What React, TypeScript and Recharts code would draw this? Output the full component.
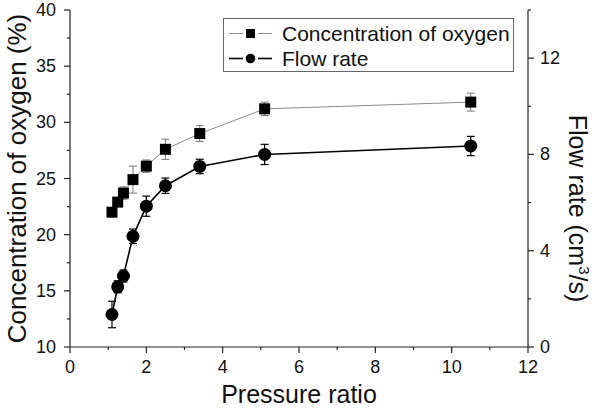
import React from 'react';
import { ComposedChart, Line, XAxis, YAxis, ErrorBar, Legend } from 'recharts';

const pressureRatio = [1.1, 1.25, 1.4, 1.65, 2.0, 2.5, 3.4, 5.1, 10.5];
const oxygenConc = [22.0, 22.9, 23.7, 24.9, 26.1, 27.6, 29.0, 31.2, 31.8];
const oxygenErr = [0.25, 0.35, 0.55, 1.2, 0.55, 0.9, 0.7, 0.6, 0.8];
const flowRate = [1.35, 2.5, 2.95, 4.6, 5.85, 6.7, 7.5, 8.0, 8.35];
const flowErr = [0.55, 0.25, 0.25, 0.3, 0.42, 0.32, 0.3, 0.42, 0.4];

const xTicks = [0, 1, 2, 3, 4, 5, 6, 7, 8, 9, 10, 11, 12];
const xMajor = [0, 2, 4, 6, 8, 10, 12];
const leftTicks = [10, 12.5, 15, 17.5, 20, 22.5, 25, 27.5, 30, 32.5, 35, 37.5, 40];
const leftMajor = [10, 15, 20, 25, 30, 35, 40];
const rightTicks = [0, 2, 4, 6, 8, 10, 12, 14];
const rightMajor = [0, 4, 8, 12];

const seriesNames = ['Concentration of oxygen', 'Flow rate'];

const data = pressureRatio.map((x, i) => ({
  x,
  conc: oxygenConc[i],
  concErr: oxygenErr[i],
  flow: flowRate[i],
  flowErr: flowErr[i],
}));

const FONT = '"Liberation Sans", Arial, sans-serif';
const AXIS = '#222';
const CONC_LINE = '#8a8a8a';

const BottomTick = (p: any) => {
  const { x, y, payload } = p;
  const major = xMajor.includes(payload.value);
  return (
    <g>
      <line x1={x} x2={x} y1={y} y2={y + (major ? 6 : 3)} stroke={AXIS} strokeWidth={1.2} />
      {major && (
        <text x={x} y={y + 26} textAnchor="middle" fontSize={18} fontFamily={FONT} fill="#111">
          {payload.value}
        </text>
      )}
    </g>
  );
};

const TopTick = (p: any) => {
  const { x, y, payload } = p;
  const major = xMajor.includes(payload.value);
  return <line x1={x} x2={x} y1={y} y2={y + (major ? 6 : 3)} stroke={AXIS} strokeWidth={1.2} />;
};

const LeftTick = (p: any) => {
  const { x, y, payload } = p;
  const major = leftMajor.includes(payload.value);
  return (
    <g>
      <line x1={x} x2={x - (major ? 6 : 3)} y1={y} y2={y} stroke={AXIS} strokeWidth={1.2} />
      {major && (
        <text x={x - 14} y={y + 6} textAnchor="end" fontSize={18} fontFamily={FONT} fill="#111">
          {payload.value}
        </text>
      )}
    </g>
  );
};

const RightTick = (p: any) => {
  const { x, y, payload } = p;
  const major = rightMajor.includes(payload.value);
  return (
    <g>
      <line x1={x} x2={x + (major ? 6 : 3)} y1={y} y2={y} stroke={AXIS} strokeWidth={1.2} />
      {major && (
        <text x={x + 12} y={y + 6} textAnchor="start" fontSize={18} fontFamily={FONT} fill="#111">
          {payload.value}
        </text>
      )}
    </g>
  );
};

const LeftTitle = (p: any) => {
  const vb = p.viewBox;
  const cx = vb.x + 26;
  const cy = vb.y + vb.height / 2;
  return (
    <text x={cx} y={cy} transform={`rotate(-90, ${cx}, ${cy})`} textAnchor="middle" fontSize={26} fontFamily={FONT} fill="#111">
      Concentration of oxygen (%)
    </text>
  );
};

const RightTitle = (p: any) => {
  const vb = p.viewBox;
  const cx = vb.x + 41;
  const cy = vb.y + vb.height / 2 + 30;
  return (
    <text x={cx} y={cy} transform={`rotate(90, ${cx}, ${cy})`} textAnchor="middle" fontSize={25} fontFamily={FONT} fill="#111">
      Flow rate (cm<tspan dy={-10} fontSize={15}>3</tspan><tspan dy={10}>/s)</tspan>
    </text>
  );
};

const BottomTitle = (p: any) => {
  const vb = p.viewBox;
  const cx = vb.x + vb.width / 2;
  return (
    <text x={cx} y={vb.y + 56} textAnchor="middle" fontSize={25} fontFamily={FONT} fill="#111">
      Pressure ratio
    </text>
  );
};

const SquareDot = (p: any) => {
  const { cx, cy, index } = p;
  if (cx == null || cy == null) return <g key={index} />;
  return <rect key={index} x={cx - 5.5} y={cy - 5.5} width={11} height={11} fill="#000" />;
};

const CircleDot = (p: any) => {
  const { cx, cy, index } = p;
  if (cx == null || cy == null) return <g key={index} />;
  return <circle key={index} cx={cx} cy={cy} r={6.5} fill="#000" />;
};

const LegendBox = () => (
  <div
    style={{
      width: 289,
      height: 50,
      paddingTop: 2,
      border: '1px solid #666',
      background: '#fff',
      fontFamily: FONT,
      fontSize: 21,
      color: '#111',
      boxSizing: 'content-box',
    }}
  >
    {seriesNames.map((name, i) => {
      const stroke = i === 0 ? CONC_LINE : '#000';
      const sw = i === 0 ? 1 : 1.6;
      return (
        <div key={name} style={{ display: 'flex', alignItems: 'center', height: 25 }}>
          <svg width={58} height={25} style={{ display: 'block', flex: 'none' }}>
            <line x1={5} x2={19} y1={12.5} y2={12.5} stroke={stroke} strokeWidth={sw} />
            <line x1={34} x2={48} y1={12.5} y2={12.5} stroke={stroke} strokeWidth={sw} />
            {i === 0 ? (
              <rect x={22} y={8} width={9} height={9} fill="#000" />
            ) : (
              <circle cx={26.5} cy={12.5} r={4.8} fill="#000" />
            )}
          </svg>
          <span style={{ lineHeight: '25px', whiteSpace: 'nowrap' }}>{name}</span>
        </div>
      );
    })}
  </div>
);

export default function App() {
  return (
    <div style={{ position: 'absolute', left: 0, top: 0, background: '#fff' }}>
      <ComposedChart width={600} height={411} data={data} margin={{ top: 10, right: 0, bottom: 0, left: 0 }}>
        <XAxis
          xAxisId="bottom"
          dataKey="x"
          type="number"
          domain={[0, 12]}
          ticks={xTicks}
          interval={0}
          tickSize={0}
          tickMargin={0}
          tick={<BottomTick />}
          height={64}
          axisLine={{ stroke: AXIS, strokeWidth: 1.2 }}
          tickLine={false}
          label={<BottomTitle />}
        />
        <XAxis
          xAxisId="top"
          orientation="top"
          dataKey="x"
          type="number"
          domain={[0, 12]}
          ticks={xTicks}
          interval={0}
          tickSize={0}
          tickMargin={0}
          tick={<TopTick />}
          height={0}
          axisLine={{ stroke: AXIS, strokeWidth: 1.2 }}
          tickLine={false}
        />
        <YAxis
          yAxisId="left"
          domain={[10, 40]}
          ticks={leftTicks}
          interval={0}
          width={70}
          tickSize={0}
          tickMargin={0}
          tick={<LeftTick />}
          axisLine={{ stroke: AXIS, strokeWidth: 1.2 }}
          tickLine={false}
          label={<LeftTitle />}
        />
        <YAxis
          yAxisId="right"
          orientation="right"
          domain={[0, 14]}
          ticks={rightTicks}
          interval={0}
          width={72}
          tickSize={0}
          tickMargin={0}
          tick={<RightTick />}
          axisLine={{ stroke: AXIS, strokeWidth: 1.2 }}
          tickLine={false}
          label={<RightTitle />}
        />
        <Legend
          layout="horizontal"
          verticalAlign="middle"
          align="center"
          content={<LegendBox />}
          wrapperStyle={{ position: 'absolute', left: 223, top: 18, width: 291, height: 54 }}
        />
        <Line
          xAxisId="bottom"
          yAxisId="left"
          dataKey="conc"
          name={seriesNames[0]}
          stroke={CONC_LINE}
          strokeWidth={1}
          dot={SquareDot}
          activeDot={false}
          isAnimationActive={false}
        >
          <ErrorBar dataKey="concErr" direction="y" width={4} stroke="#777" strokeWidth={1} />
        </Line>
        <Line
          xAxisId="bottom"
          yAxisId="right"
          dataKey="flow"
          name={seriesNames[1]}
          stroke="#000"
          strokeWidth={1.6}
          dot={CircleDot}
          activeDot={false}
          isAnimationActive={false}
        >
          <ErrorBar dataKey="flowErr" direction="y" width={4} stroke="#000" strokeWidth={1.2} />
        </Line>
      </ComposedChart>
    </div>
  );
}
